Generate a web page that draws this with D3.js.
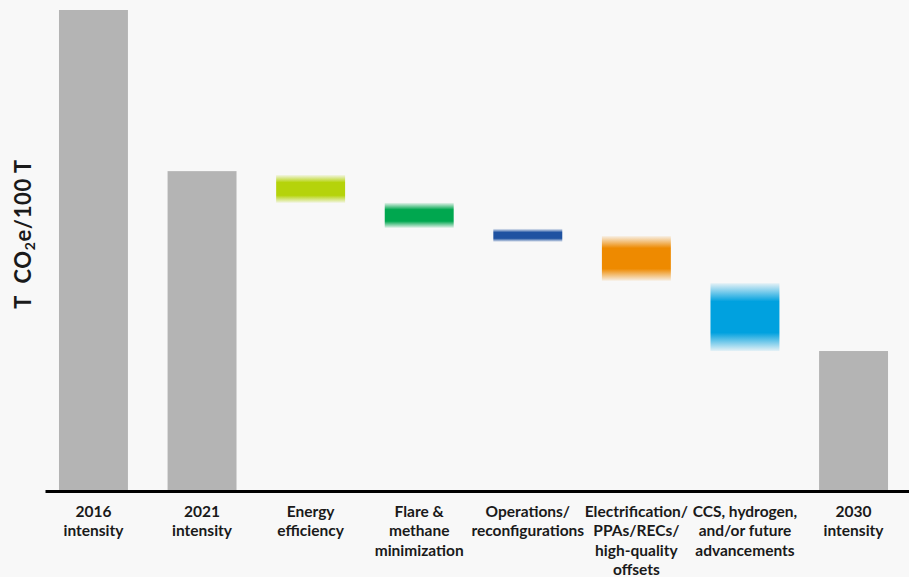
<!DOCTYPE html>
<html>
<head>
<meta charset="utf-8">
<script src="https://cdn.jsdelivr.net/npm/d3@7"></script>
<style>
  html, body { margin:0; padding:0; background:#f8f8f8; }
  svg { display:block; font-family: Lato, "Noto Sans", sans-serif; }
</style>
</head>
<body>
<svg class="myChart" width="909" height="577"></svg>
<script>
// categories (label lines)
const categories = [
  ["2016", "intensity"],
  ["2021", "intensity"],
  ["Energy", "efficiency"],
  ["Flare &", "methane", "minimization"],
  ["Operations/", "reconfigurations"],
  ["Electrification/", "PPAs/RECs/", "high-quality", "offsets"],
  ["CCS, hydrogen,", "and/or future", "advancements"],
  ["2030", "intensity"]
];
const keys = categories.map(d => d.join(" "));

// totals (index, 2016 = 100)
const totalKeys = [keys[0], keys[1], keys[7]];
const totalValues = [100, 66.5, 29.1];

// reduction levers: start / end level
const leverKeys = [keys[2], keys[3], keys[4], keys[5], keys[6]];
const leverStart = [65.7, 59.9, 54.5, 53.0, 43.2];
const leverEnd   = [59.9, 54.7, 51.8, 43.7, 29.1];
const leverColors = ["#b5d30a", "#00a74f", "#1f52a1", "#ee8a00", "#00a1df"];

const svg = d3.select('svg.myChart');

const x = d3.scaleBand()
  .domain(keys)
  .range([45, 909])
  .paddingInner(0.365)
  .paddingOuter(0.161)
  .align(0.4);

const y = d3.scaleLinear()
  .domain([0, 100])
  .range([491, 10]);

// gradients for the floating bars (soft top/bottom edges)
const defs = svg.append('defs');
leverKeys.forEach((k, i) => {
  const gr = defs.append('linearGradient')
    .attr('id', 'grad' + i)
    .attr('x1', 0).attr('y1', 0).attr('x2', 0).attr('y2', 1);
  [[0, 0.08], [0.27, 1], [0.73, 1], [1, 0.08]].forEach(s => {
    gr.append('stop')
      .attr('offset', s[0])
      .attr('stop-color', leverColors[i])
      .attr('stop-opacity', s[1]);
  });
});

// total bars
svg.selectAll('rect.total').data(totalKeys)
  .enter().append('rect')
  .attr('class', 'total')
  .attr('x', d => x(d))
  .attr('y', (d, i) => y(totalValues[i]))
  .attr('width', x.bandwidth())
  .attr('height', (d, i) => y(0) - y(totalValues[i]))
  .attr('fill', '#b4b4b4');

// floating lever bars
svg.selectAll('rect.lever').data(leverKeys)
  .enter().append('rect')
  .attr('class', 'lever')
  .attr('x', d => x(d))
  .attr('y', (d, i) => y(Math.max(leverStart[i], leverEnd[i])))
  .attr('width', x.bandwidth())
  .attr('height', (d, i) => Math.abs(y(leverEnd[i]) - y(leverStart[i])))
  .attr('fill', (d, i) => `url(#grad${i})`);

// x axis
const xAxis = d3.axisBottom(x).tickSize(0).tickSizeOuter(0).tickFormat('');
const gx = svg.append('g')
  .attr('transform', `translate(0,${y(0)})`)
  .call(xAxis);
gx.select('.domain').attr('stroke', '#000').attr('stroke-width', 3);

const labels = svg.selectAll('text.label').data(categories)
  .enter().append('text')
  .attr('class', 'label')
  .attr('text-anchor', 'middle')
  .attr('font-size', '15.5px')
  .attr('font-weight', 700)
  .attr('fill', '#1a1a1a');
labels.each(function(d, i) {
  const t = d3.select(this);
  d.forEach((line, j) => {
    t.append('tspan')
      .attr('x', x(keys[i]) + x.bandwidth() / 2)
      .attr('y', y(0) + 26 + j * 19.4)
      .text(line);
  });
});

// y title
const yt = svg.append('text')
  .attr('transform', 'translate(31,234) rotate(-90)')
  .attr('text-anchor', 'middle')
  .attr('font-size', '22px')
  .attr('font-weight', 700)
  .attr('letter-spacing', '0.6px')
  .attr('fill', '#1a1a1a');
yt.append('tspan').text('T\u2002CO');
yt.append('tspan').attr('font-size', '14px').attr('dy', 4).text('2');
yt.append('tspan').attr('dy', -4).text('e/100 T');
</script>
</body>
</html>
